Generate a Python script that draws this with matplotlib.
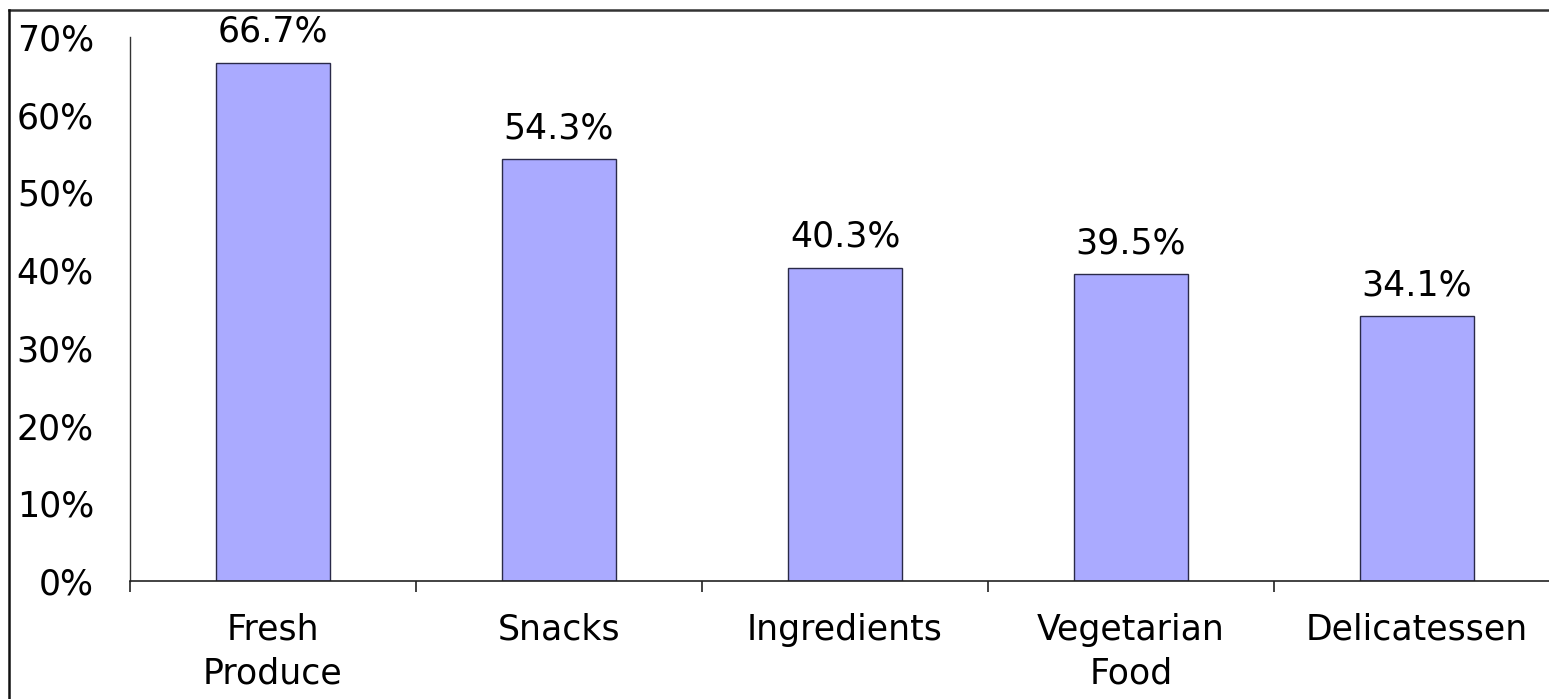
import numpy as np
import matplotlib
matplotlib.use("Agg")
import matplotlib.pyplot as plt
from matplotlib.lines import Line2D
from matplotlib.ticker import FixedLocator, PercentFormatter

categories = ["Fresh\nProduce", "Snacks", "Ingredients", "Vegetarian\nFood", "Delicatessen"]
values = [66.7, 54.3, 40.3, 39.5, 34.1]
yticks = [0, 10, 20, 30, 40, 50, 60, 70]

plt.rcParams['font.family'] = ['DejaVu Sans']

W, H = 1549, 699
fig = plt.figure(figsize=(W / 100, H / 100), dpi=100)
fig.patch.set_facecolor("white")

# axes placed in pixel terms (extends a bit past the right edge like the source)
left, right, bottom, top = 130, 1560, 581, 37
ax = fig.add_axes([left / W, 1 - bottom / H, (right - left) / W, (bottom - top) / H])

x = np.arange(len(categories))
ax.bar(x, values, width=0.4, color="#AAAAFF", edgecolor="#2a2a48", linewidth=1.0, zorder=2)

for xi, v in zip(x, values):
    ax.annotate(f"{v:.1f}%", (xi, v), xytext=(0, 10), textcoords="offset points",
                ha="center", va="bottom", fontsize=25, color="black")

ax.set_xlim(-0.5, len(categories) - 0.5)
ax.set_ylim(0, 70)
ax.set_yticks(yticks)
ax.yaxis.set_major_formatter(PercentFormatter(decimals=0))
ax.tick_params(axis="y", length=0, pad=26, labelsize=25, labelcolor="black")

# boundary ticks as major, category labels on minor
ax.xaxis.set_major_locator(FixedLocator(np.arange(len(categories) + 1) - 0.5))
ax.xaxis.set_minor_locator(FixedLocator(x))
ax.set_xticklabels([], minor=False)
ax.set_xticklabels(categories, minor=True, fontsize=25, linespacing=1.35)
ax.tick_params(axis="x", which="major", length=8, width=1.2, direction="out", color="#222222")
ax.tick_params(axis="x", which="minor", length=0, pad=23)

for s in ["top", "right"]:
    ax.spines[s].set_visible(False)
ax.spines["left"].set_color("#333333")
ax.spines["bottom"].set_color("#222222")
ax.spines["left"].set_linewidth(1.0)
ax.spines["bottom"].set_linewidth(1.2)

# outer frame lines (top and left) of the original slide
fig.add_artist(Line2D([9 / W, 1], [1 - 10 / H, 1 - 10 / H], color="#333333", linewidth=1.8))
fig.add_artist(Line2D([9 / W, 9 / W], [0, 1 - 10 / H], color="#111111", linewidth=1.8))

fig.savefig("out.png", dpi=100, facecolor="white")
